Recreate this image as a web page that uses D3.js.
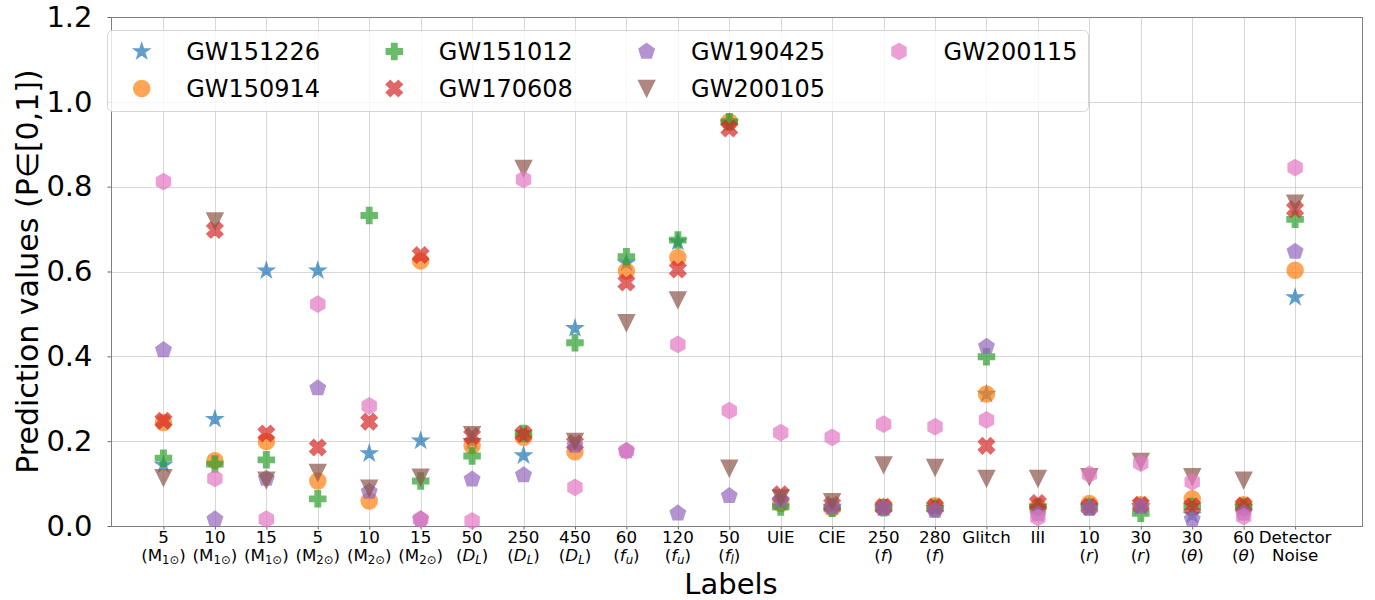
<!DOCTYPE html>
<html>
<head>
<meta charset="utf-8">
<script src="https://cdn.jsdelivr.net/npm/d3@7"></script>
<style>
  html, body { margin: 0; padding: 0; background: #fff; }
  svg { display: block; font-family: "DejaVu Sans", sans-serif; }
</style>
</head>
<body>
<svg id="chart" width="1375" height="600"></svg>
<script>
// ---------------- data ----------------
const categories = ["5 (M1)", "10 (M1)", "15 (M1)", "5 (M2)", "10 (M2)", "15 (M2)",
  "50 (DL)", "250 (DL)", "450 (DL)", "60 (fu)", "120 (fu)", "50 (fl)", "UIE", "CIE",
  "250 (f)", "280 (f)", "Glitch", "III", "10 (r)", "30 (r)", "30 (θ)", "60 (θ)", "Detector Noise"];
const tickTop = ["5", "10", "15", "5", "10", "15", "50", "250", "450", "60", "120", "50",
  "UIE", "CIE", "250", "280", "Glitch", "III", "10", "30", "30", "60", "Detector"];
const tickBottom = ["(M_{1⊙})", "(M_{1⊙})", "(M_{1⊙})", "(M_{2⊙})", "(M_{2⊙})", "(M_{2⊙})",
  "(D_{L})", "(D_{L})", "(D_{L})", "(f_{u})", "(f_{u})", "(f_{l})", "", "",
  "(f)", "(f)", "", "", "(r)", "(r)", "(θ)", "(θ)", "Noise"];
const yTicks = [0.0, 0.2, 0.4, 0.6, 0.8, 1.0, 1.2];

const seriesNames = ["GW151226", "GW150914", "GW151012", "GW170608", "GW190425", "GW200105", "GW200115"];
const GW151226 = [0.144, 0.252, 0.602, 0.602, 0.171, 0.201, 0.200, 0.166, 0.466, 0.620, 0.670, 0.950, 0.055, 0.045, 0.043, 0.042, 0.311, 0.045, 0.045, 0.046, 0.026, 0.045, 0.539];
const GW150914 = [0.244, 0.154, 0.199, 0.106, 0.059, 0.625, 0.189, 0.209, 0.175, 0.601, 0.633, 0.953, 0.053, 0.042, 0.045, 0.048, 0.311, 0.045, 0.053, 0.050, 0.064, 0.050, 0.603];
const GW151012 = [0.160, 0.146, 0.156, 0.064, 0.732, 0.106, 0.165, 0.218, 0.432, 0.635, 0.674, 0.953, 0.045, 0.042, 0.043, 0.042, 0.399, 0.045, 0.045, 0.030, 0.046, 0.045, 0.723];
const GW170608 = [0.248, 0.698, 0.218, 0.185, 0.246, 0.639, 0.212, 0.217, 0.195, 0.574, 0.605, 0.937, 0.075, 0.050, 0.045, 0.045, 0.189, 0.054, 0.045, 0.050, 0.046, 0.048, 0.747];
const GW190425 = [0.415, 0.016, 0.112, 0.325, 0.081, 0.016, 0.110, 0.120, 0.190, 0.177, 0.030, 0.071, 0.060, 0.045, 0.042, 0.036, 0.423, 0.028, 0.042, 0.046, 0.016, 0.030, 0.647];
const GW200105 = [0.114, 0.719, 0.108, 0.126, 0.089, 0.115, 0.215, 0.843, 0.199, 0.479, 0.533, 0.136, 0.066, 0.057, 0.144, 0.138, 0.112, 0.112, 0.116, 0.152, 0.116, 0.108, 0.761];
const GW200115 = [0.812, 0.112, 0.016, 0.523, 0.283, 0.016, 0.012, 0.817, 0.091, 0.177, 0.428, 0.272, 0.220, 0.209, 0.240, 0.234, 0.250, 0.020, 0.122, 0.148, 0.104, 0.022, 0.845];
const seriesValues = [GW151226, GW150914, GW151012, GW170608, GW190425, GW200105, GW200115];

// ---------------- styles ----------------
const colors = ["#1f77b4", "#ff7f0e", "#2ca02c", "#d62728", "#9467bd", "#8c564b", "#e377c2"];
const shapes = ["star", "circle", "plus", "x", "pentagon", "tridown", "hexagon"];
const MS = 16;          // marker size (px)
const ALPHA = 0.7;

const W = 1375, H = 600;
const margin = { left: 111, right: 12, top: 17, bottom: 74 };
const svg = d3.select("#chart");

const x = d3.scaleLinear().domain([-1.02, 23.32]).range([margin.left, W - margin.right]);
const y = d3.scaleLinear().domain([0, 1.2]).range([H - margin.bottom, margin.top]);

// ---------------- marker paths ----------------
function polyPath(pts) { return "M" + pts.map(p => p[0].toFixed(2) + "," + p[1].toFixed(2)).join("L") + "Z"; }
function regular(n, r, rot) {
  const pts = [];
  for (let i = 0; i < n; i++) {
    const a = rot + i * 2 * Math.PI / n;
    pts.push([r * Math.sin(a), -r * Math.cos(a)]);
  }
  return pts;
}
function markerPath(shape, s) {
  const r = s / 2;
  switch (shape) {
    case "circle":
      return `M${r},0A${r},${r} 0 1,1 ${-r},0A${r},${r} 0 1,1 ${r},0Z`;
    case "star": {
      const pts = [];
      for (let i = 0; i < 10; i++) {
        const rr = i % 2 === 0 ? r : r * 0.381966;
        const a = i * Math.PI / 5;
        pts.push([rr * Math.sin(a), -rr * Math.cos(a)]);
      }
      return polyPath(pts);
    }
    case "plus": {
      const v = [[-1,-3],[1,-3],[1,-1],[3,-1],[3,1],[1,1],[1,3],[-1,3],[-1,1],[-3,1],[-3,-1],[-1,-1]];
      return polyPath(v.map(p => [p[0] / 6 * s, p[1] / 6 * s]));
    }
    case "x": {
      const v = [[-1,-2],[0,-1],[1,-2],[2,-1],[1,0],[2,1],[1,2],[0,1],[-1,2],[-2,1],[-1,0],[-2,-1]];
      return polyPath(v.map(p => [p[0] / 4 * s, p[1] / 4 * s]));
    }
    case "pentagon":
      return polyPath(regular(5, r, 0));
    case "hexagon":
      return polyPath(regular(6, r, 0));
    case "tridown":
      return polyPath([[0, r], [-r, -r], [r, -r]]);
  }
}

// ---------------- grid ----------------
const plotL = margin.left, plotR = W - margin.right, plotT = margin.top, plotB = H - margin.bottom;
const grid = svg.append("g");
grid.selectAll("line.v").data(categories).enter().append("line")
  .attr("x1", (d, i) => Math.round(x(i)) + 0.5).attr("x2", (d, i) => Math.round(x(i)) + 0.5)
  .attr("y1", plotT).attr("y2", plotB)
  .attr("stroke", "#b0b0b0").attr("stroke-opacity", 0.5).attr("stroke-width", 1);
grid.selectAll("line.h").data(yTicks).enter().append("line")
  .attr("x1", plotL).attr("x2", plotR)
  .attr("y1", d => Math.round(y(d)) + 0.5).attr("y2", d => Math.round(y(d)) + 0.5)
  .attr("stroke", "#b0b0b0").attr("stroke-opacity", 0.5).attr("stroke-width", 1);

// ---------------- axes ----------------
const yAxis = d3.axisLeft(y).tickValues(yTicks).tickFormat(d3.format(".1f")).tickSizeInner(3.5).tickSizeOuter(0).tickPadding(15);
const gy = svg.append("g").attr("transform", `translate(${plotL},0)`).call(yAxis);
gy.select(".domain").remove();
gy.selectAll(".tick line").attr("stroke", "#666");
gy.selectAll(".tick text").attr("font-size", 29).attr("font-family", "DejaVu Sans").attr("fill", "#000");

const xAxis = d3.axisBottom(x).tickValues(d3.range(categories.length)).tickFormat("").tickSizeInner(3.5).tickSizeOuter(0);
const gx = svg.append("g").attr("transform", `translate(0,${plotB})`).call(xAxis);
gx.select(".domain").remove();
gx.selectAll(".tick line").attr("stroke", "#666");

// x tick labels with simple math formatting (second line)
function addMath(textSel, str, fs, x0, y0) {
  const isMath = str.startsWith("(");
  const parts = [];
  let i = 0;
  while (i < str.length) {
    const k = str.indexOf("_{", i);
    if (k < 0) { parts.push({ t: str.slice(i), sub: false }); break; }
    if (k > i) parts.push({ t: str.slice(i, k), sub: false });
    const e = str.indexOf("}", k);
    parts.push({ t: str.slice(k + 2, e), sub: true });
    i = e + 1;
  }
  let shifted = false, first = true;
  parts.forEach(p => {
    Array.from(p.t).forEach(ch => {
      const ital = isMath && /[A-Za-zθ]/.test(ch) && ch !== "M";
      const ts = textSel.append("tspan").text(ch)
        .attr("font-style", ital ? "italic" : "normal")
        .attr("font-size", p.sub ? fs * 0.7 : fs);
      if (first) { ts.attr("x", x0).attr("y", y0); first = false; }
      if (p.sub && !shifted) { ts.attr("dy", fs * 0.2); shifted = true; }
      if (!p.sub && shifted) { ts.attr("dy", -fs * 0.2); shifted = false; }
    });
  });
}
const tickFs = 16.7;
const xl = svg.append("g");
categories.forEach((c, i) => {
  const t = xl.append("text").attr("text-anchor", "middle").attr("font-size", tickFs).attr("fill", "#000");
  t.append("tspan").attr("x", x(i)).attr("y", plotB + 17).text(tickTop[i]);
  if (tickBottom[i]) addMath(t, tickBottom[i], tickFs, x(i), plotB + 35);
});

// spines
svg.append("rect").attr("x", plotL + 0.5).attr("y", plotT + 0.5)
  .attr("width", plotR - plotL - 1).attr("height", plotB - plotT)
  .attr("fill", "none").attr("stroke", "#808080").attr("stroke-width", 1);

// axis labels
svg.append("text").attr("x", 731).attr("y", plotB + 68)
  .attr("text-anchor", "middle").attr("font-size", 29).text("Labels");
svg.append("text").attr("transform", `translate(38,${(plotT + plotB) / 2}) rotate(-90)`)
  .attr("text-anchor", "middle").attr("font-size", 30).text("Prediction values (P∈[0,1])");

// ---------------- points ----------------
const pts = svg.append("g");
seriesValues.forEach((vals, si) => {
  pts.append("g").selectAll("path").data(vals).enter().append("path")
    .attr("d", markerPath(shapes[si], MS))
    .attr("transform", (d, i) => `translate(${x(i)},${y(d)})`)
    .attr("fill", colors[si]).attr("stroke", colors[si]).attr("stroke-width", 1.5)
    .attr("opacity", ALPHA);
});

// ---------------- legend ----------------
const lg = svg.append("g");
lg.append("rect").attr("x", 107.5).attr("y", 30.5).attr("width", 981).attr("height", 81)
  .attr("rx", 5).attr("fill", "#fff").attr("fill-opacity", 0.8).attr("stroke", "#cccccc").attr("stroke-opacity", 0.8);
const colX = [141.7, 394.3, 646.6, 899];
const rowY = [51.5, 88.5];
seriesNames.forEach((n, si) => {
  const col = Math.floor(si / 2), row = si % 2;
  lg.append("path").attr("d", markerPath(shapes[si], MS))
    .attr("transform", `translate(${colX[col]},${rowY[row]})`)
    .attr("fill", colors[si]).attr("stroke", colors[si]).attr("stroke-width", 1.5).attr("opacity", ALPHA);
  lg.append("text").attr("x", colX[col] + 44.5).attr("y", rowY[row]).attr("dy", "0.36em")
    .attr("font-size", 24).text(n);
});
</script>
</body>
</html>
